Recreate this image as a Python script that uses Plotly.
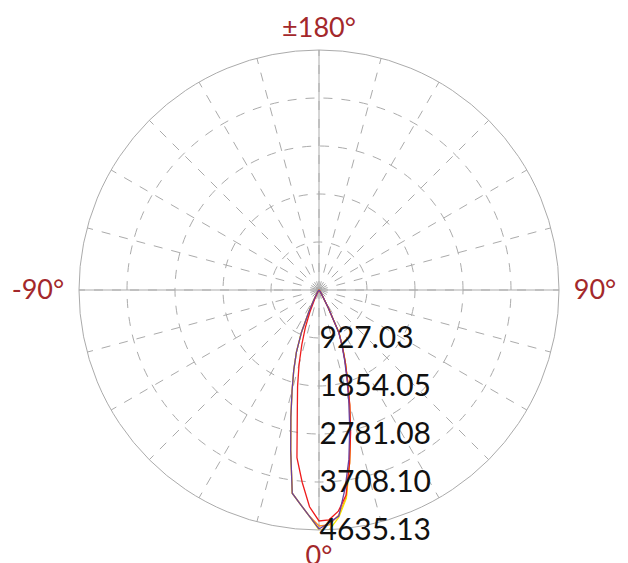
import plotly.graph_objects as go

# ---- data (luminous intensity, cd) ----
GAMMA = [0, 2.5, 5, 7.5, 10, 12.5, 15, 17.5, 20, 22.5, 25, 27.5, 30, 32.5, 35, 37.5, 40, 45, 50,
         60, 90, 120, 150, 180]

purple_left = [4616, 4365, 4152, 3959, 3148, 2511, 2009, 1622, 1275, 888, 463, 232, 116, 68, 39, 27, 19, 10, 4, 0, 0, 0, 0, 0]
purple_right = [4616, 4500, 4384, 3863, 3322, 2742, 2221, 1796, 1448, 1159, 908, 386, 155, 77, 39, 27, 19, 10, 4, 0, 0, 0, 0, 0]

red_left = [4461, 4191, 3727, 3264, 2414, 1912, 1487, 1101, 773, 464, 212, 97, 58, 35, 19, 14, 10, 4, 2, 0, 0, 0, 0, 0]
red_right = [4461, 4442, 4287, 3998, 3399, 2820, 2298, 1835, 1487, 1178, 908, 386, 155, 77, 39, 27, 19, 10, 4, 0, 0, 0, 0, 0]

yellow_left = [4635, 4365, 4152, 3959, 3148, 2511, 2009, 1622, 1275, 888, 463, 232, 116, 68, 39, 27, 19, 10, 4, 0, 0, 0, 0, 0]
yellow_right = [4635, 4635, 4403, 4056, 3399, 2800, 2279, 1835, 1487, 1197, 927, 386, 155, 77, 39, 27, 19, 10, 4, 0, 0, 0, 0, 0]

orange_left = [4558, 4365, 4152, 3959, 3148, 2511, 2009, 1622, 1275, 888, 463, 232, 116, 68, 39, 27, 19, 10, 4, 0, 0, 0, 0, 0]
orange_right = [4558, 4539, 4365, 4036, 3399, 2800, 2279, 1835, 1487, 1178, 908, 386, 155, 77, 39, 27, 19, 10, 4, 0, 0, 0, 0, 0]

RADIAL_TICKS = [927.03, 1854.05, 2781.08, 3708.10, 4635.13]
RADIAL_LABELS = ["927.03", "1854.05", "2781.08", "3708.10", "4635.13"]
RADIAL_MAX = 4635.13

ANGLE_TICKS = list(range(0, 360, 15))
ANGLE_LABELS = {0: "0°", 90: " 90°", 180: "±180°", 270: "-90° "}
CROSS_ANGLES = [0, 180, 90, 270]

SERIES = [
    ("orange", orange_left, orange_right, "#ff8c1a"),
    ("yellow", yellow_left, yellow_right, "#f5e400"),
    ("red", red_left, red_right, "#ee1c1c"),
    ("purple", purple_left, purple_right, "#6a3fa0"),
]

GRID = "#ababab"
LABEL_RED = "#a3282b"
FONT = "Lato"


def loop(left, right):
    theta = [-g for g in reversed(GAMMA)] + GAMMA[1:]
    r = list(reversed(left)) + right[1:]
    return theta, r


fig = go.Figure()

# solid cross lines (0/180 and 90/270)
ct, cr = [], []
for i in range(0, len(CROSS_ANGLES), 2):
    ct += [CROSS_ANGLES[i], CROSS_ANGLES[i], CROSS_ANGLES[i + 1], None]
    cr += [RADIAL_MAX, 0, RADIAL_MAX, None]
fig.add_trace(go.Scatterpolar(theta=ct, r=cr, mode="lines",
                              line=dict(color=GRID, width=1), hoverinfo="skip"))

for name, left, right, color in SERIES:
    th, rr = loop(left, right)
    fig.add_trace(go.Scatterpolar(theta=th, r=rr, mode="lines", name=name,
                                  line=dict(color=color, width=1.3)))

W, H = 628, 563
cx, cy, R = 311, 282, 240   # page has an 8px body offset
fig.update_layout(
    width=W, height=H,
    margin=dict(l=0, r=0, t=0, b=0),
    paper_bgcolor="white",
    showlegend=False,
    font=dict(family=FONT),
    polar=dict(
        domain=dict(x=[(cx - R) / W, (cx + R) / W],
                    y=[(H - cy - R) / H, (H - cy + R) / H]),
        bgcolor="white",
        angularaxis=dict(
            rotation=-90, direction="counterclockwise",
            tickmode="array", tickvals=ANGLE_TICKS,
            ticktext=[ANGLE_LABELS.get(a, "") for a in ANGLE_TICKS],
            ticks="outside", ticklen=2, tickcolor="rgba(0,0,0,0)",
            showline=True, linecolor=GRID, linewidth=1,
            gridcolor=GRID, griddash="dash", gridwidth=1,
            tickfont=dict(size=27, color=LABEL_RED, family=FONT),
        ),
        radialaxis=dict(
            range=[0, RADIAL_MAX], angle=-90, side="counterclockwise",
            tickmode="array", tickvals=RADIAL_TICKS, ticktext=RADIAL_LABELS,
            tickangle=-90, ticks="", showline=False,
            gridcolor=GRID, griddash="dash", gridwidth=1,
            tickfont=dict(size=30, color="#111111", family=FONT),
        ),
    ),
)

fig.write_html("out.html")
